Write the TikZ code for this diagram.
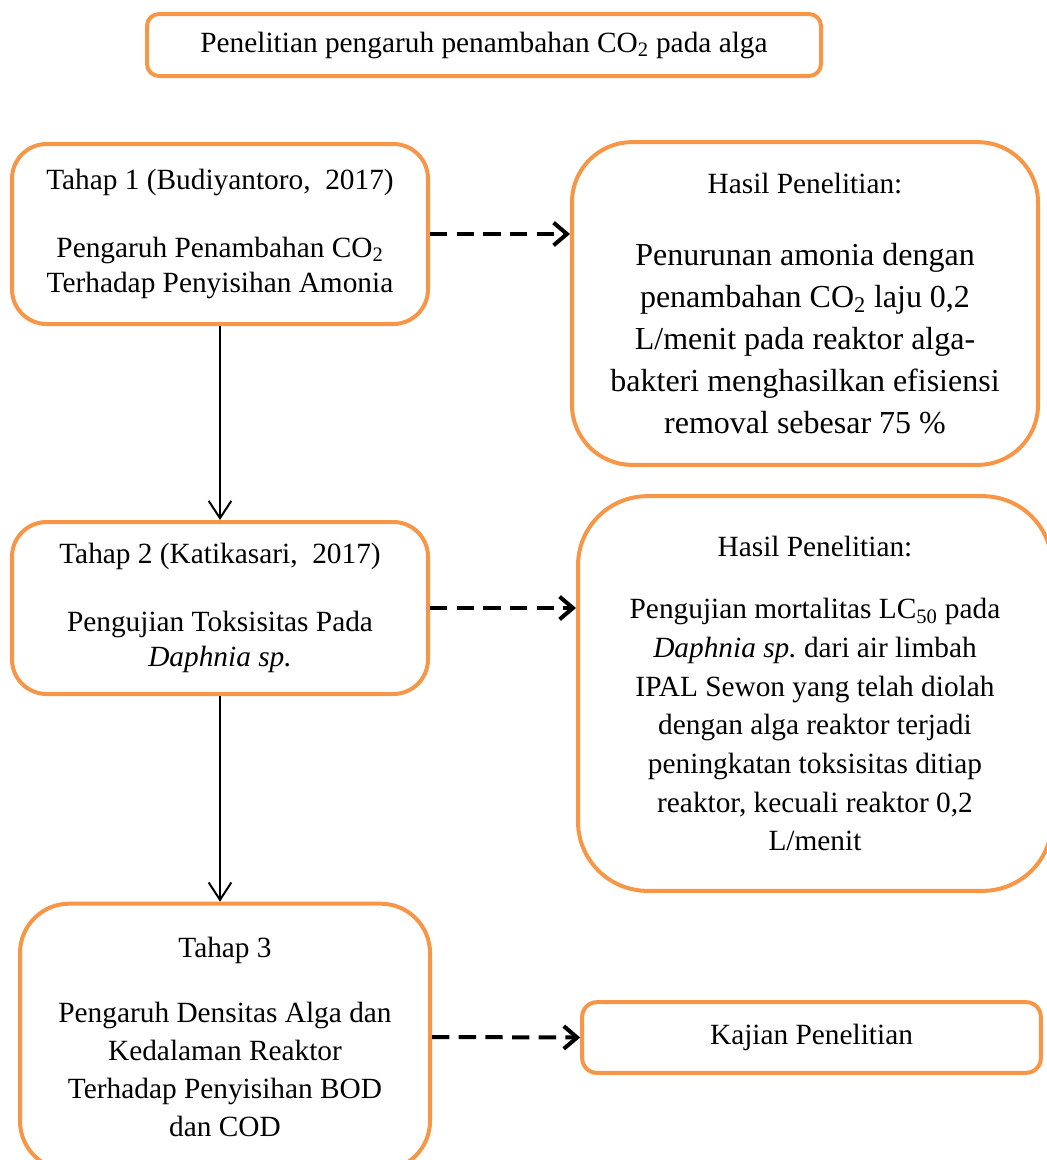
\documentclass[tikz,border=0pt]{standalone}
\usepackage{fontspec}
\setmainfont{Liberation Serif}
\frenchspacing
\usetikzlibrary{arrows.meta}
\definecolor{oranye}{HTML}{F79646}
\tikzset{
  kotak/.style={draw=oranye, line width=3pt, align=center, inner sep=0pt,
    font=\fontsize{22}{26}\selectfont},
  panahlurus/.style={-{Straight Barb[length=13pt,width=17pt]}, line width=1.5pt},
  panahputus/.style={-{Straight Barb[length=10pt,width=17pt]}, line width=3pt,
    dash pattern=on 13pt off 7pt},
}
\begin{document}
\begin{tikzpicture}[x=0.75pt, y=-0.75pt]
    \useasboundingbox (0,0) rectangle (1046,1160);

    % judul
    \node[kotak, rounded corners=9pt, minimum width=505.5pt, minimum height=46.5pt] (judul) at (484,45)
        {Penelitian pengaruh penambahan CO\textsubscript{2} pada alga};

    % tahap penelitian
    \node[kotak, rounded corners=26pt, minimum width=312pt, minimum height=135pt] (tahap1) at (220,234)
        {Tahap 1 (Budiyantoro,~~2017)\\[25pt]Pengaruh Penambahan CO\textsubscript{2}\\Terhadap Penyisihan Amonia};
    \node[kotak, rounded corners=26pt, minimum width=312pt, minimum height=129pt] (tahap2) at (220,608)
        {Tahap 2 (Katikasari,~~2017)\\[25pt]Pengujian Toksisitas Pada\\\textit{Daphnia sp.}};
    \node[kotak, rounded corners=37pt, minimum width=307.5pt, minimum height=200pt,
        font=\fontsize{22}{28.5}\selectfont] (tahap3) at (225,1037)
        {Tahap 3\\[20pt]Pengaruh Densitas Alga dan\\Kedalaman Reaktor\\Terhadap Penyisihan BOD\\dan COD};

    % hasil
    \node[kotak, rounded corners=45pt, minimum width=349.5pt, minimum height=242pt,
        font=\fontsize{24}{31.5}\selectfont] (hasil1) at (805,303.5)
        {{\fontsize{22}{26}\selectfont Hasil Penelitian:}\\[22pt]Penurunan amonia dengan\\penambahan CO\textsubscript{2} laju 0,2\\L/menit pada reaktor alga-\\bakteri menghasilkan efisiensi\\removal sebesar 75~\%};
    \node[kotak, rounded corners=52pt, minimum width=355.5pt, minimum height=296pt,
        font=\fontsize{22}{29}\selectfont] (hasil2) at (815,693.5)
        {Hasil Penelitian:\\[18pt]Pengujian mortalitas LC\textsubscript{50} pada\\\textit{Daphnia sp.} dari air limbah\\IPAL Sewon yang telah diolah\\dengan alga reaktor terjadi\\peningkatan toksisitas ditiap\\reaktor, kecuali reaktor 0,2\\L/menit};
    \node[kotak, rounded corners=11pt, minimum width=344pt, minimum height=53pt] (kajian) at (811.5,1037.5)
        {Kajian Penelitian};

    % panah
    \draw[panahlurus] (tahap1.south) -- (tahap2.north);
    \draw[panahlurus] (tahap2.south) -- (tahap2.south |- tahap3.north);
    \draw[panahputus] (tahap1.east) -- (tahap1.east -| hasil1.west);
    \draw[panahputus] (tahap2.east) -- (tahap2.east -| hasil2.west);
    \draw[panahputus] (tahap3.east) -- (kajian.west);

\end{tikzpicture}
\end{document}
